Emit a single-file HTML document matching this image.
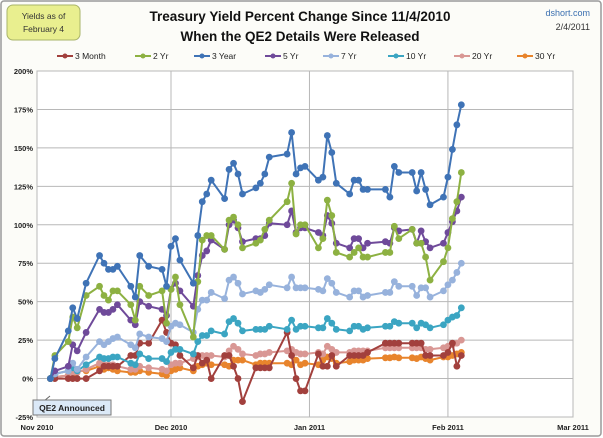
<!DOCTYPE html>
<html><head><meta charset="utf-8"><style>
html,body{margin:0;padding:0;background:#fff;}
#wrap{position:relative;width:603px;height:438px;overflow:hidden;font-family:"Liberation Sans",sans-serif;}
svg text{font-family:"Liberation Sans",sans-serif;}
</style></head><body>
<div id="wrap">
<svg id="chart" width="603" height="438" xmlns="http://www.w3.org/2000/svg">
<rect x="1" y="1" width="600" height="435" rx="3" fill="#fcfcf8" stroke="#9a9a9a" stroke-width="1.5"/>
<rect x="7" y="5" width="73" height="35" rx="6" fill="#e9ef8f" stroke="#a9b46a"/>
<text x="43.5" y="19" font-size="8.5" text-anchor="middle" fill="#333">Yields as of</text>
<text x="43.5" y="32" font-size="8.5" text-anchor="middle" fill="#333">February 4</text>
<text x="300" y="21" font-size="13.5" font-weight="bold" text-anchor="middle" fill="#111">Treasury Yield Percent Change Since 11/4/2010</text>
<text x="300" y="41" font-size="13.5" font-weight="bold" text-anchor="middle" fill="#111">When the QE2 Details Were Released</text>
<text x="590" y="16" font-size="9" text-anchor="end" fill="#3a6fb0">dshort.com</text>
<text x="590" y="30" font-size="9" text-anchor="end" fill="#333">2/4/2011</text>
<g id="grid"></g>
<g id="legend"></g>
<g id="series"></g>
<g>
<polyline points="50,396 44,401 50,401" fill="none" stroke="#666"/>
<rect x="33" y="400" width="78" height="15" fill="#dbe9f7" stroke="#777"/>
<text x="72" y="411" font-size="8.5" font-weight="bold" text-anchor="middle" fill="#222">QE2 Announced</text>
</g>
</svg>
</div>
<script>
const days = [3,4,7,8,9,11,14,15,16,17,18,21,22,23,25,28,29,
30,31,32,35,36,37,38,39,42,43,44,45,46,49,50,51,52,56,57,58,59,60,
63,64,65,66,67,70,71,72,73,74,78,79,80,81,84,85,86,87,88,91,
92,93,94,95];
const seriesNames = ["3 Month","2 Yr","3 Year","5 Yr","7 Yr","10 Yr","20 Yr","30 Yr"];
const m3 = [0,0,0,0,0,0,5,8,8,8,8,15,15,23,23,38,30,
23,22,15,7,15,10,12,0,15,15,8,0,-15,7,7,7,7,30,15,0,-8,-8,
16,8,8,15,8,15,15,15,15,17,23,23,23,23,23,23,23,15,15,15,
17,23,8,15];
const y2 = [0,15,24,40,33,54,60,54,51,57,57,48,38,60,54,57,36,
58,66,48,27,63,90,93,93,84,103,105,100,85,88,90,97,103,115,127,94,100,100,
85,91,116,106,82,79,82,85,79,79,82,82,99,91,97,88,88,79,64,76,
85,104,115,134];
const y3 = [0,13,31,46,39,62,80,75,71,71,73,60,53,80,73,71,60,
86,91,77,62,93,115,120,129,117,136,140,133,120,124,127,133,144,146,160,133,137,138,
129,131,158,147,127,120,129,129,123,123,123,118,138,134,134,122,134,123,113,118,
131,149,165,178];
const y5 = [0,5,8,22,18,30,45,43,43,45,48,38,35,50,47,45,41,
58,62,57,47,67,80,83,90,84,100,103,98,89,91,91,93,101,100,109,95,98,98,
95,93,106,101,88,85,91,91,85,88,89,88,98,96,97,88,96,89,85,88,
95,102,109,118];
const y7 = [0,3,5,10,6,14,24,22,24,26,27,22,20,29,27,26,24,
34,36,35,30,45,51,51,56,52,64,66,62,55,57,56,58,61,59,66,59,59,59,
58,57,65,62,56,53,57,57,53,54,56,56,63,60,60,54,59,59,53,57,
61,64,69,75];
const y10 = [0,3,5,7,5,9,14,13,13,14,14,10,9,16,13,13,11,
17,19,19,16,24,28,28,31,29,37,39,36,31,32,32,32,34,32,38,32,34,34,
33,33,39,36,32,31,34,34,32,33,34,34,37,36,36,33,36,35,33,35,
38,40,41,46];
const y20 = [0,1,2,4,4,6,10,9,9,9,8,6,6,8,7,6,5,
9,10,10,13,14,15,15,15,14,18,21,19,16,15,16,16,17,18,19,17,16,16,
17,16,21,19,17,17,18,18,18,18,20,20,20,20,20,20,20,19,19,20,
21,22,23,25];
const y30 = [0,1,2,2,5,5,8,6,7,6,5,4,4,5,4,3,2,
5,6,7,5,8,9,10,9,9,8,12,12,12,9,10,10,10,10,9,12,9,10,
9,12,14,13,10,11,12,12,12,13,13.5,13.5,14,13.5,13.5,13,14,13,12,14,
14,15,16,17];
const yTicks = [-25,0,25,50,75,100,125,150,175,200];
const xTickDays = [0,30,61,92,120];
const xTickLabels = ["Nov 2010","Dec 2010","Jan 2011","Feb 2011","Mar 2011"];
const colors = ["#a2403d","#8db142","#3f73b6","#6f4a9a","#97b2dc","#3ba5c2","#d99794","#e8842c"];
const allSeries = [m3,y2,y3,y5,y7,y10,y20,y30];

const X0=37, X1=573, Y0=417, Y1=71;
const xScale = d => X0 + d/120*(X1-X0);
const yScale = v => Y0 - (v+25)/225*(Y0-Y1);
const NS="http://www.w3.org/2000/svg";
function mk(tag, attrs, parent){const e=document.createElementNS(NS,tag);for(const k in attrs)e.setAttribute(k,attrs[k]);parent.appendChild(e);return e;}

const grid=document.getElementById('grid');
mk('rect',{x:X0,y:Y1,width:X1-X0,height:Y0-Y1,fill:"#ffffff",stroke:"#b0b0b0"},grid);
yTicks.forEach(t=>{
  const y=yScale(t);
  const l=mk('line',{x1:X0,x2:X1,y1:y,y2:y,stroke:"#b8b8b8","stroke-width":1},grid);
  
  
  const tx=mk('text',{x:X0-4,y:y+3,"font-size":"7.5","font-weight":"bold","text-anchor":"end",fill:"#222"},grid);
  tx.textContent=t+"%";
  
  
});
xTickDays.forEach((d,i)=>{
  const x=xScale(d);
  const l=mk('line',{x1:x,x2:x,y1:Y1,y2:Y0,stroke:"#b8b8b8"},grid);
  
  
  const tx=mk('text',{x:x,y:430,"font-size":"7.5","font-weight":"bold","text-anchor":"middle",fill:"#222"},grid);
  tx.textContent=xTickLabels[i];
  
  
});

const legend=document.getElementById('legend');
const legX=[57,135,194,265,323,388,454,517];
seriesNames.forEach((n,i)=>{
  const g=mk('g',{},legend);
  
  
  mk('line',{x1:legX[i],x2:legX[i]+16,y1:56,y2:56,stroke:colors[i],"stroke-width":2},g);
  mk('circle',{cx:legX[i]+8,cy:56,r:2.5,fill:colors[i]},g);
  const t=mk('text',{x:legX[i]+18,y:59,"font-size":"8.5",fill:"#222"},g);
  t.textContent=n;
});

const sg=document.getElementById('series');
const order=[7,6,0,5,4,3,1,2];
order.forEach(i=>{
  const vals=allSeries[i];
  const g=mk('g',{},sg);
  
  
  const pts=vals.map((v,j)=>xScale(days[j]).toFixed(1)+","+yScale(v).toFixed(1)).join(" ");
  mk('polyline',{points:pts,fill:"none",stroke:colors[i],"stroke-width":2,"stroke-linejoin":"round"},g);
  vals.forEach((v,j)=>{
    const c=mk('circle',{cx:xScale(days[j]),cy:yScale(v),r:3.4,fill:colors[i]},g);
    
    
  });
});
</script>
</body></html>
